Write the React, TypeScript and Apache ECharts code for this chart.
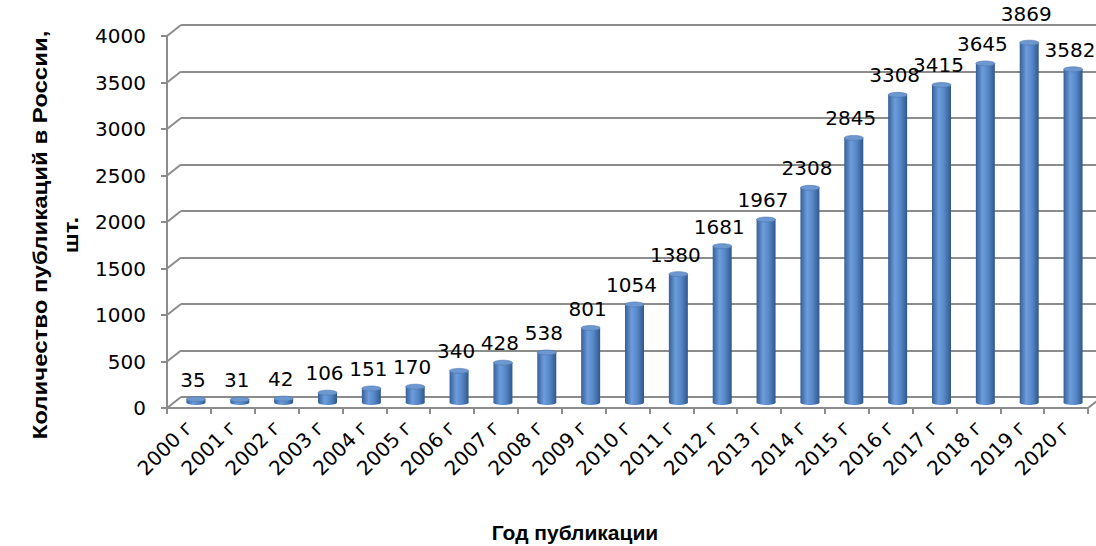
import React, { useEffect, useRef } from "react";
import * as echarts from "echarts";

const categories = [
  "2000 г", "2001 г", "2002 г", "2003 г", "2004 г", "2005 г", "2006 г",
  "2007 г", "2008 г", "2009 г", "2010 г", "2011 г", "2012 г", "2013 г",
  "2014 г", "2015 г", "2016 г", "2017 г", "2018 г", "2019 г", "2020 г",
];
const values = [
  35, 31, 42, 106, 151, 170, 340, 428, 538, 801, 1054, 1380, 1681, 1967,
  2308, 2845, 3308, 3415, 3645, 3869, 3582,
];
const yTicks = [0, 500, 1000, 1500, 2000, 2500, 3000, 3500, 4000];

const yTitle = "Количество публикаций в России,\nшт.";
const xTitle = "Год публикации";

const FONT = "Liberation Sans";
const TFONT = "DejaVu Sans";
const GRAY = "#8c8c8c";
const DX = 14;
const DY = -11;

export default function App() {
  const ref = useRef<HTMLDivElement>(null);
  useEffect(() => {
    if (!ref.current) return;
    const chart = echarts.init(ref.current, null, { renderer: "svg" });
    const maxV = Math.max(...values);
    const gridH = 372;
    const frontLeft = 167;
    const frontTop = 36;
    const gridW = 921;
    const option: any = {
      animation: false,
      backgroundColor: "#ffffff",
      grid: [
        { left: frontLeft, top: frontTop, width: gridW, height: gridH, outerBoundsMode: "none" },
        { left: frontLeft + DX / 2, top: frontTop + DY / 2, width: gridW, height: gridH, outerBoundsMode: "none" },
        { left: frontLeft + DX, top: frontTop + DY, width: gridW + 40, height: gridH, outerBoundsMode: "none" },
      ],
      xAxis: [
        {
          type: "category",
          gridIndex: 0,
          data: categories,
          boundaryGap: true,
          axisLine: { show: true, lineStyle: { color: GRAY, width: 2 } },
          axisTick: { show: true, length: 6, alignWithLabel: false, lineStyle: { color: GRAY, width: 2 } },
          axisLabel: {
            rotate: 45,
            interval: 0,
            margin: 16,
            color: "#000",
            fontFamily: TFONT,
            fontSize: 20,
          },
          splitLine: { show: false },
        },
        { type: "category", gridIndex: 1, data: categories, show: false },
        { type: "category", gridIndex: 2, data: categories, show: false },
      ],
      yAxis: [
        {
          type: "value",
          gridIndex: 0,
          min: 0,
          max: 4000,
          interval: 500,
          axisLine: { show: true, lineStyle: { color: GRAY, width: 2 } },
          axisTick: { show: true, length: 6, lineStyle: { color: GRAY, width: 2 } },
          axisLabel: {
            color: "#000",
            fontFamily: TFONT,
            fontSize: 20,
            margin: 21,
            formatter: (v: number) => String(v),
          },
          splitLine: { show: false },
        },
        { type: "value", gridIndex: 1, min: 0, max: 4000, interval: 500, show: false, splitLine: { show: false } },
        {
          type: "value",
          gridIndex: 2,
          min: 0,
          max: 4000,
          interval: 500,
          axisLine: { show: false },
          axisTick: { show: false },
          axisLabel: { show: false },
          splitLine: { show: true, lineStyle: { color: GRAY, width: 2 } },
        },
      ],
      graphic: [
        {
          type: "text",
          x: 56,
          y: 235,
          rotation: Math.PI / 2,
          scaleX: 1.2,
          style: {
            text: yTitle,
            fontFamily: FONT,
            fontSize: 20,
            fontWeight: "bold",
            fill: "#000",
            align: "center",
            verticalAlign: "middle",
            lineHeight: 31,
          },
        },
        {
          type: "text",
          x: 575,
          y: 532,
          style: {
            text: xTitle,
            fontFamily: FONT,
            fontSize: 21,
            fontWeight: "bold",
            fill: "#000",
            align: "center",
            verticalAlign: "middle",
          },
        },
      ],
      series: [
        {
          type: "custom",
          name: "walls",
          xAxisIndex: 0,
          yAxisIndex: 0,
          clip: false,
          silent: true,
          data: yTicks.map((v) => [0, v]),
          renderItem: (params: any, api: any) => {
            const cs = params.coordSys;
            const v = api.value(1);
            const y = api.coord([0, v])[1];
            const children: any[] = [
              {
                type: "line",
                shape: { x1: cs.x, y1: y, x2: cs.x + DX, y2: y + DY },
                style: { stroke: GRAY, lineWidth: 2 },
              },
            ];
            if (v === 0) {
              children.push({
                type: "line",
                shape: { x1: cs.x + cs.width, y1: y, x2: cs.x + cs.width + DX, y2: y + DY },
                style: { stroke: GRAY, lineWidth: 2 },
              });
            }
            return { type: "group", children };
          },
          z: 1,
        },
        {
          type: "custom",
          name: "bars",
          xAxisIndex: 1,
          yAxisIndex: 1,
          clip: false,
          data: values.map((v, i) => [i, v]),
          renderItem: (params: any, api: any) => {
            const i = api.value(0);
            const v = api.value(1);
            const top = api.coord([i, v]);
            const base = api.coord([i, 0]);
            const w = 19;
            const rx = w / 2;
            const ry = 2.5;
            const fill = new echarts.graphic.LinearGradient(0, 0, 1, 0, [
              { offset: 0, color: "#365f97" },
              { offset: 0.35, color: "#6d9ddb" },
              { offset: 0.65, color: "#5587c7" },
              { offset: 1, color: "#30578b" },
            ]);
            return {
              type: "group",
              children: [
                {
                  type: "ellipse",
                  shape: { cx: top[0], cy: base[1], rx, ry },
                  style: { fill },
                },
                {
                  type: "rect",
                  shape: { x: top[0] - rx, y: top[1], width: w, height: base[1] - top[1] },
                  style: { fill },
                },
                {
                  type: "ellipse",
                  shape: { cx: top[0], cy: top[1], rx, ry },
                  style: { fill: "#6d97cf", stroke: "#4a76b0", lineWidth: 0.6 },
                },
              ],
            };
          },
          z: 3,
        },
        {
          type: "custom",
          name: "labels",
          xAxisIndex: 0,
          yAxisIndex: 0,
          clip: false,
          data: values.map((v, i) => [i, v]),
          renderItem: (params: any, api: any) => {
            const i = api.value(0);
            const v = api.value(1);
            const p = api.coord([i, v]);
            const extra = v === maxV ? 9 : 0;
            return {
              type: "text",
              x: p[0] + 4,
              y: p[1] - 25 - extra,
              style: {
                text: String(v),
                fontFamily: TFONT,
                fontSize: 20,
                fill: "#000",
                align: "center",
                verticalAlign: "middle",
              },
            };
          },
          z: 4,
        },
      ],
    };
    chart.setOption(option);
    return () => chart.dispose();
  }, []);
  return (
    <div
      ref={ref}
      style={{ position: "fixed", left: 0, top: 0, width: 1096, height: 546, background: "#fff" }}
    />
  );
}
